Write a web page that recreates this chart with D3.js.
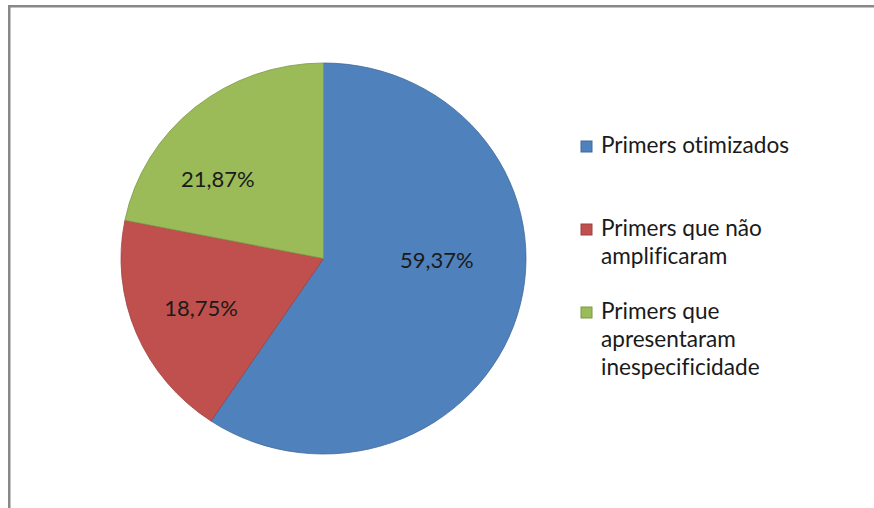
<!DOCTYPE html>
<html>
<head>
<meta charset="utf-8">
<script src="https://cdn.jsdelivr.net/npm/d3@7"></script>
<style>
  html, body { margin: 0; padding: 0; background: #fff; overflow: hidden; }
  svg { display: block; }
  text { font-family: Lato, "Open Sans", sans-serif; fill: #1a1a1a; font-variant-ligatures: none; }
</style>
</head>
<body>
<svg id="chart" width="874" height="508"></svg>
<script>
// ---- data ----
const categories = ["Primers otimizados", "Primers que não amplificaram", "Primers que apresentaram inespecificidade"];
const legendLines = [["Primers otimizados"], ["Primers que não", "amplificaram"], ["Primers que", "apresentaram", "inespecificidade"]];
const values = [59.37, 18.75, 21.87];
const valueLabels = ["59,37%", "18,75%", "21,87%"];
const colors = ["#4F81BD", "#C0504D", "#9BBB59"];

// ---- layout ----
const svg = d3.select("#chart");
const W = 874, H = 508;

// outer frame (extends past right/bottom edges)
svg.append("rect")
  .attr("x", 9.25).attr("y", 6.25)
  .attr("width", W + 20).attr("height", H + 20)
  .attr("fill", "#fff")
  .attr("stroke", "#888888")
  .attr("stroke-width", 2.5);

const cx = 323.5, cy = 258.5, rx = 202.5, ry = 195.5;

const pie = d3.pie().sort(null).value(d => d)(values);
const arc = d3.arc().innerRadius(0).outerRadius(rx);

const g = svg.append("g")
  .attr("transform", `translate(${cx},${cy}) scale(1,${ry / rx})`);

g.selectAll("path.slice")
  .data(pie)
  .enter().append("path")
  .attr("class", "slice")
  .attr("d", arc)
  .attr("fill", (d, i) => colors[i])
  .attr("stroke", (d, i) => d3.color(colors[i]).darker(0.6))
  .attr("stroke-width", 0.8);

// data labels (Excel best-fit style placement, relative to pie radii)
const labelOffsets = [[0.56, 0.003], [-0.605, 0.251], [-0.522, -0.407]];
svg.selectAll("text.vlabel")
  .data(pie)
  .enter().append("text")
  .attr("class", "vlabel")
  .attr("x", (d, i) => cx + labelOffsets[i][0] * rx)
  .attr("y", (d, i) => cy + labelOffsets[i][1] * ry)
  .attr("text-anchor", "middle")
  .attr("dominant-baseline", "central")
  .attr("font-size", 22)
  .text((d, i) => valueLabels[i]);

// legend
const legendX = 581, legendTop = [153, 236, 319], lineH = 28;
const lg = svg.append("g");
categories.forEach((c, i) => {
  lg.append("rect")
    .attr("x", legendX).attr("y", legendTop[i] - 12)
    .attr("width", 11).attr("height", 11)
    .attr("fill", colors[i])
    .attr("stroke", d3.color(colors[i]).darker(0.6))
    .attr("stroke-width", 1);
  const t = lg.append("text")
    .attr("x", legendX + 20)
    .attr("y", legendTop[i])
    .attr("font-size", 22.6);
  legendLines[i].forEach((ln, j) => {
    t.append("tspan")
      .attr("x", legendX + 20)
      .attr("y", legendTop[i] + j * lineH)
      .text(ln);
  });
});
</script>
</body>
</html>
